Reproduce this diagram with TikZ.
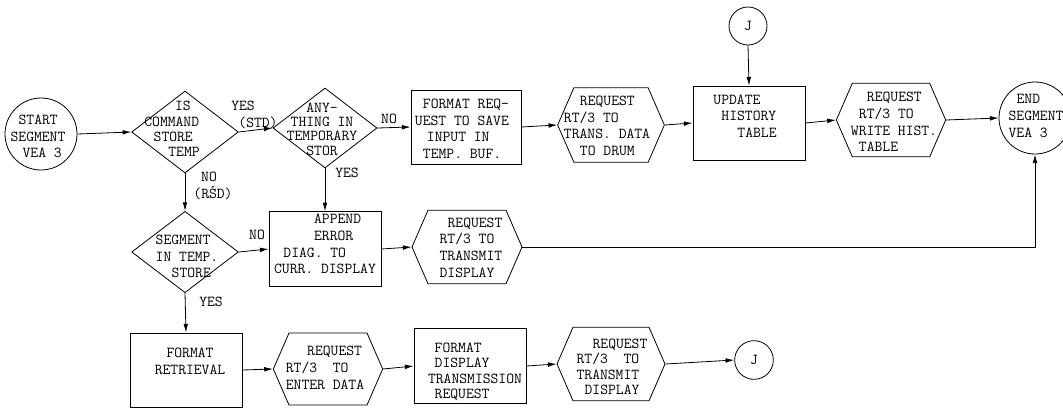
\documentclass[tikz,border=0pt]{standalone}
\usepackage{tikz}
\usetikzlibrary{shapes.geometric, shapes.symbols, arrows.meta}

\tikzset{
	fc/.style={draw, line width=0.6pt, inner sep=0pt},
	procbox/.style={fc, rectangle},
	decbox/.style={fc, diamond},
	iobox/.style={fc, signal, signal to=east and west, signal pointer angle=133},
	termcirc/.style={fc, circle},
	flow/.style={line width=0.6pt, -{Latex[length=6.5pt,width=3.5pt]}},
	tw/.style={font=\fontsize{11.4}{12.5}\selectfont\ttfamily, inner sep=0pt, align=left},
	twtight/.style={tw, font=\fontsize{11.4}{11.6}\selectfont\ttfamily},
}

\begin{document}
\begin{tikzpicture}[x=0.75pt,y=0.75pt,yscale=-1,xscale=1]
		\useasboundingbox (0,0) rectangle (1063,408);
		
		%Shape: Circle [id:start] 
		\node[termcirc, minimum size=54pt] (start) at (41,134) {};
		%Shape: Diamond [id:is] 
		\node[decbox, minimum width=80pt, minimum height=61.5pt] (is) at (185,132) {};
		%Shape: Diamond [id:any] 
		\node[decbox, minimum width=78pt, minimum height=60pt] (any) at (325,128) {};
		%Shape: Rectangle [id:fmtreq] 
		\node[procbox, minimum width=82.5pt, minimum height=55.5pt] (fmtreq) at (466,127) {};
		%Shape: Hexagon [id:reqdrum] 
		\node[iobox, minimum width=80pt, minimum height=56pt] (reqdrum) at (611,125) {};
		%Shape: Rectangle [id:update] 
		\node[procbox, minimum width=84pt, minimum height=55.5pt] (update) at (749,123) {};
		%Shape: Circle [id:jtop] 
		\node[termcirc, minimum size=28.5pt] (jtop) at (748,26) {};
		%Shape: Hexagon [id:reqhist] 
		\node[iobox, minimum width=82pt, minimum height=55pt] (reqhist) at (891,120) {};
		%Shape: Circle [id:endseg] 
		\node[termcirc, minimum size=54pt] (endseg) at (1035,118) {};
		%Shape: Diamond [id:seg] 
		\node[decbox, minimum width=80pt, minimum height=61pt] (seg) at (185,252) {};
		%Shape: Rectangle [id:append] 
		\node[procbox, minimum width=84pt, minimum height=56pt] (append) at (325,249) {};
		%Shape: Hexagon [id:reqdisp] 
		\node[iobox, minimum width=82.5pt, minimum height=55pt] (reqdisp) at (467,247) {};
		%Shape: Rectangle [id:fmtret] 
		\node[procbox, minimum width=84pt, minimum height=55.5pt] (fmtret) at (186,370) {};
		%Shape: Hexagon [id:reqenter] 
		\node[iobox, minimum width=82pt, minimum height=54pt] (reqenter) at (328,369) {};
		%Shape: Rectangle [id:fmtdisp] 
		\node[procbox, minimum width=84pt, minimum height=56pt] (fmtdisp) at (470,366) {};
		%Shape: Hexagon [id:reqtx] 
		\node[iobox, minimum width=81pt, minimum height=55pt] (reqtx) at (611,364) {};
		%Shape: Circle [id:jbot] 
		\node[termcirc, minimum size=29pt] (jbot) at (754,360) {};
		
		%Straight Lines 
		\draw[flow] (start.east) -- (is.west);
		\draw[flow] (is.east) -- (any.west);
		\draw[flow] (any.east) -- (fmtreq.west);
		\draw[flow] (fmtreq.east) -- (reqdrum.west);
		\draw[flow] (reqdrum.east) -- (update.west);
		\draw[flow] (jtop.south) -- (update.north);
		\draw[flow] (update.east) -- (reqhist.west);
		\draw[flow] (reqhist.east) -- (endseg.west);
		\draw[flow] (is.south) -- (seg.north);
		\draw[flow] (any.south) -- (append.north);
		\draw[flow] (seg.east) -- (append.west);
		\draw[flow] (append.east) -- (reqdisp.west);
		\draw[flow] (reqdisp.east) -| (endseg.south);
		\draw[flow] (seg.south) -- (fmtret.north);
		\draw[flow] (fmtret.east) -- (reqenter.west);
		\draw[flow] (reqenter.east) -- (fmtdisp.west);
		\draw[flow] (fmtdisp.east) -- (reqtx.west);
		\draw[flow] (reqtx.east) -- (jbot.west);
		
		% Text Node
		\node[tw] (startT) at (38,136.5) {\hspace*{6pt}START\\SEGMENT\\\hspace*{9pt}VEA 3};
		% Text Node
		\node[twtight] (isT) at (172,129) {\hspace*{23pt}IS\\COMMAND\\\hspace*{7pt}STORE\\\hspace*{18pt}TEMP};
		% Text Node
		\node[tw] (yesIs) at (243,106) {YES};
		% Text Node
		\node[tw] (stdIs) at (258,123) {(STD)};
		% Text Node
		\node[tw, align=center, font=\fontsize{11.4}{10.8}\selectfont\ttfamily] (anyT) at (322,129) {ANY-\\THING IN\\TEMPORARY\\STOR};
		% Text Node
		\node[tw] (noAny) at (389,119) {NO};
		% Text Node
		\node[tw] (yesAny) at (347,173) {YES};
		% Text Node
		\node[tw] (fmtreqT) at (462,129) {\hspace*{6pt}FORMAT REQ-\\UEST TO SAVE\\\hspace*{9pt}INPUT IN\\\hspace*{6pt}TEMP. BUF.};
		% Text Node
		\node[tw] (reqdrumT) at (607,126) {\hspace*{12pt}REQUEST\\RT/3 TO\\TRANS. DATA\\\hspace*{12pt}TO DRUM};
		% Text Node
		\node[tw] (updateT) at (745,116) {UPDATE\\\hspace*{6pt}HISTORY\\\hspace*{18pt}TABLE};
		% Text Node
		\node[tw] (jtopT) at (748,26) {J};
		% Text Node
		\node[tw] (reqhistT) at (894,122) {\hspace*{12pt}REQUEST\\\hspace*{6pt}RT/3 TO\\WRITE HIST.\\\hspace*{6pt}TABLE};
		% Text Node
		\node[tw] (endT) at (1036,116) {\hspace*{6pt}END\\SEGMENT\\VEA 3};
		% Text Node
		\node[tw] (noIs) at (209,177) {NO};
		% Text Node
		\node[tw] (rsdIs) at (213,193) {(R\'SD)};
		% Text Node
		\node[tw] (segT) at (187,256.5) {SEGMENT\\IN TEMP.\\\hspace*{12pt}STORE};
		% Text Node
		\node[tw] (noSeg) at (257,235) {NO};
		% Text Node
		\node[tw] (appendT) at (325,244) {\hspace*{30pt}APPEND\\\hspace*{30pt}ERROR\\\hspace*{7pt}DIAG. TO\\CURR. DISPLAY};
		% Text Node
		\node[tw] (reqdispT) at (471,247.5) {\hspace*{6pt}REQUEST\\RT/3 TO\\TRANSMIT\\DISPLAY};
		% Text Node
		\node[tw] (yesSeg) at (211,302) {YES};
		% Text Node
		\node[tw, align=center] (fmtretT) at (190,361.5) {FORMAT\\RETRIEVAL};
		% Text Node
		\node[tw] (reqenterT) at (325,368) {\hspace*{16pt}REQUEST\\RT/3~~TO\\ENTER DATA};
		% Text Node
		\node[twtight] (fmtdispT) at (475,372) {\hspace*{5pt}FORMAT\\\hspace*{5pt}DISPLAY\\TRANSMISSION\\\hspace*{5pt}REQUEST};
		% Text Node
		\node[twtight] (reqtxT) at (612,367) {\hspace*{12pt}REQUEST\\RT/3~~TO\\TRANSMIT\\\hspace*{6pt}DISPLAY};
		% Text Node
		\node[tw] (jbotT) at (754,360) {J};
		
\end{tikzpicture}
\end{document}
